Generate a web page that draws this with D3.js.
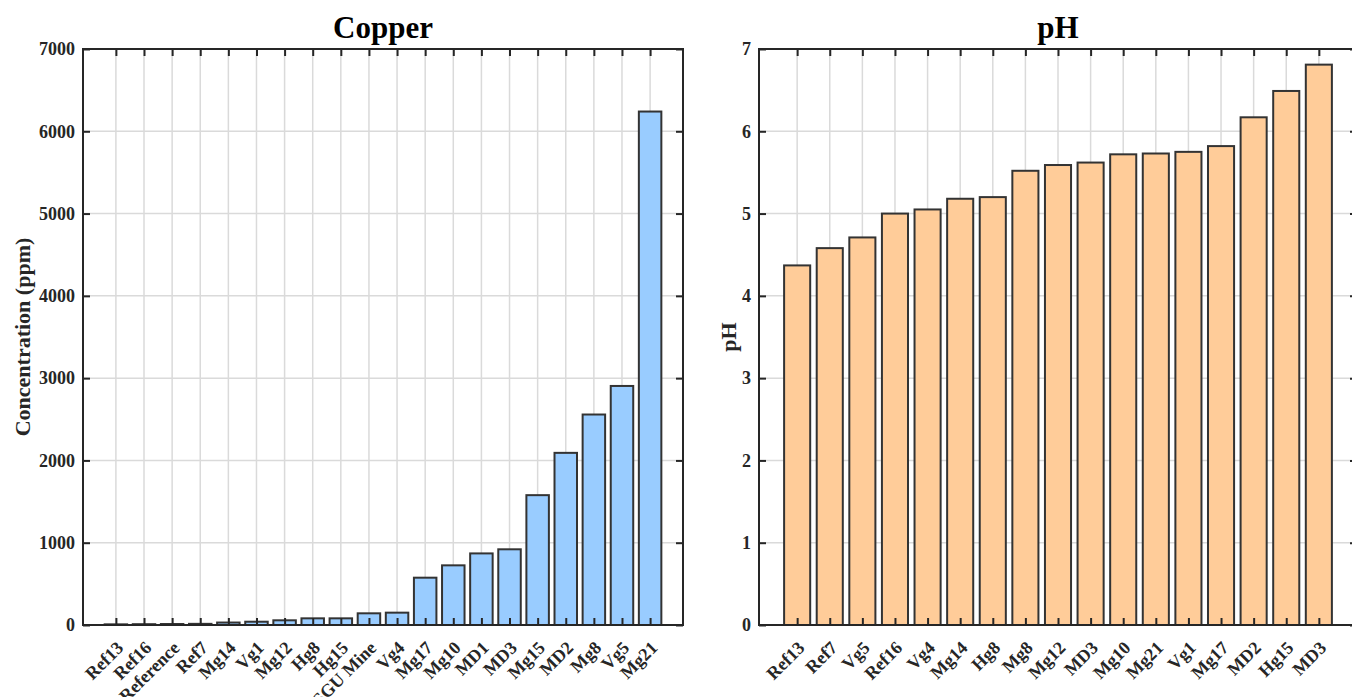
<!DOCTYPE html>
<html>
<head>
<meta charset="utf-8">
<script src="https://cdn.jsdelivr.net/npm/d3@7"></script>
<style>
  body { margin: 0; background: #ffffff; }
  text { font-family: "Liberation Serif", "Times New Roman", Times, serif; font-weight: bold; }
</style>
</head>
<body>
<svg id="chart" width="1352" height="697"></svg>
<script>
// Copper concentration per site (ppm), sorted ascending
const copperSites = ["Ref13", "Ref16", "Reference", "Ref7", "Mg14", "Vg1", "Mg12", "Hg8", "Hg15",
  "SGU Mine", "Vg4", "Mg17", "Mg10", "MD1", "MD3", "Mg15", "MD2", "Mg8", "Vg5", "Mg21"];
const copperValues = [8, 10, 12, 14, 30, 40, 57, 81, 81,
  142, 150, 575, 725, 870, 920, 1578, 2092, 2558, 2905, 6240];
const copperTicks = [0, 1000, 2000, 3000, 4000, 5000, 6000, 7000];

// Soil pH per site, sorted ascending
const phSites = ["Ref13", "Ref7", "Vg5", "Ref16", "Vg4", "Mg14", "Hg8", "Mg8", "Mg12",
  "MD3", "Mg10", "Mg21", "Vg1", "Mg17", "MD2", "Hg15", "MD3"];
const phValues = [4.37, 4.58, 4.71, 5.00, 5.05, 5.18, 5.20, 5.52, 5.59,
  5.62, 5.72, 5.73, 5.75, 5.82, 6.17, 6.49, 6.81];
const phTicks = [0, 1, 2, 3, 4, 5, 6, 7];

const svg = d3.select("#chart");
const TOP = 49, BOTTOM = 625;
const AXIS_COLOR = "#262626";

function drawPanel(opts) {
  const { left, width, sites, values, ticks, title, ylabel, ylabelX, fill } = opts;
  const right = left + width;
  const g = svg.append("g");

  const x = d3.scalePoint()
    .domain(d3.range(sites.length))
    .range([left, right])
    .padding(1.17);
  const step = x.step();
  const barW = step * 0.8;

  const y = d3.scaleLinear()
    .domain([ticks[0], ticks[ticks.length - 1]])
    .range([BOTTOM, TOP]);

  // grid lines (behind the bars)
  const grid = g.append("g").attr("stroke", "#dadada").attr("stroke-width", 1.5);
  grid.selectAll("line.v").data(d3.range(sites.length)).join("line")
    .attr("class", "v")
    .attr("x1", d => x(d)).attr("x2", d => x(d))
    .attr("y1", TOP).attr("y2", BOTTOM);
  grid.selectAll("line.h").data(ticks).join("line")
    .attr("class", "h")
    .attr("x1", left).attr("x2", right)
    .attr("y1", d => y(d)).attr("y2", d => y(d));

  // bars
  g.append("g").selectAll("rect").data(values).join("rect")
    .attr("x", (d, i) => x(i) - barW / 2)
    .attr("width", barW)
    .attr("y", d => y(d))
    .attr("height", d => y(0) - y(d))
    .attr("fill", fill)
    .attr("stroke", "#333333")
    .attr("stroke-width", 2);

  // axes: ticks pointing inward on all four sides
  const yAxis = g.append("g")
    .attr("transform", `translate(${left},0)`)
    .call(d3.axisLeft(y).tickValues(ticks).tickFormat(d3.format("d"))
      .tickSize(-7).tickSizeOuter(0).tickPadding(8));
  yAxis.selectAll("text").attr("font-size", 18).attr("fill", AXIS_COLOR);

  g.append("g")
    .attr("transform", `translate(${right},0)`)
    .call(d3.axisRight(y).tickValues(ticks).tickSize(-7).tickSizeOuter(0).tickFormat(""));

  const xAxis = g.append("g")
    .attr("transform", `translate(0,${BOTTOM})`)
    .call(d3.axisBottom(x).tickSize(-7).tickSizeOuter(0).tickFormat(i => sites[i]));
  xAxis.selectAll("text")
    .attr("x", 0).attr("y", 0).attr("dy", 0)
    .attr("transform", "translate(8,24) rotate(-45)")
    .attr("text-anchor", "end")
    .attr("font-size", 18)
    .attr("fill", AXIS_COLOR);

  g.append("g")
    .attr("transform", `translate(0,${TOP})`)
    .call(d3.axisTop(x).tickSize(-7).tickSizeOuter(0).tickFormat(""));

  g.selectAll(".domain").remove();
  g.selectAll(".tick line").attr("stroke", AXIS_COLOR).attr("stroke-width", 2);

  // axes box
  g.append("rect")
    .attr("x", left).attr("y", TOP)
    .attr("width", width).attr("height", BOTTOM - TOP)
    .attr("fill", "none")
    .attr("stroke", AXIS_COLOR)
    .attr("stroke-width", 2);

  // title
  g.append("text")
    .attr("x", left + width / 2).attr("y", 38)
    .attr("text-anchor", "middle")
    .attr("font-size", 31)
    .attr("fill", "#000")
    .text(title);

  // y-axis label
  g.append("text")
    .attr("transform", `translate(${ylabelX},${(TOP + BOTTOM) / 2}) rotate(-90)`)
    .attr("text-anchor", "middle")
    .attr("font-size", 22)
    .attr("fill", AXIS_COLOR)
    .text(ylabel);
}

drawPanel({
  left: 83, width: 600,
  sites: copperSites, values: copperValues, ticks: copperTicks,
  title: "Copper", ylabel: "Concentration (ppm)", ylabelX: 30, fill: "#99ccff"
});

drawPanel({
  left: 759, width: 598,
  sites: phSites, values: phValues, ticks: phTicks,
  title: "pH", ylabel: "pH", ylabelX: 736, fill: "#ffcc99"
});
</script>
</body>
</html>
